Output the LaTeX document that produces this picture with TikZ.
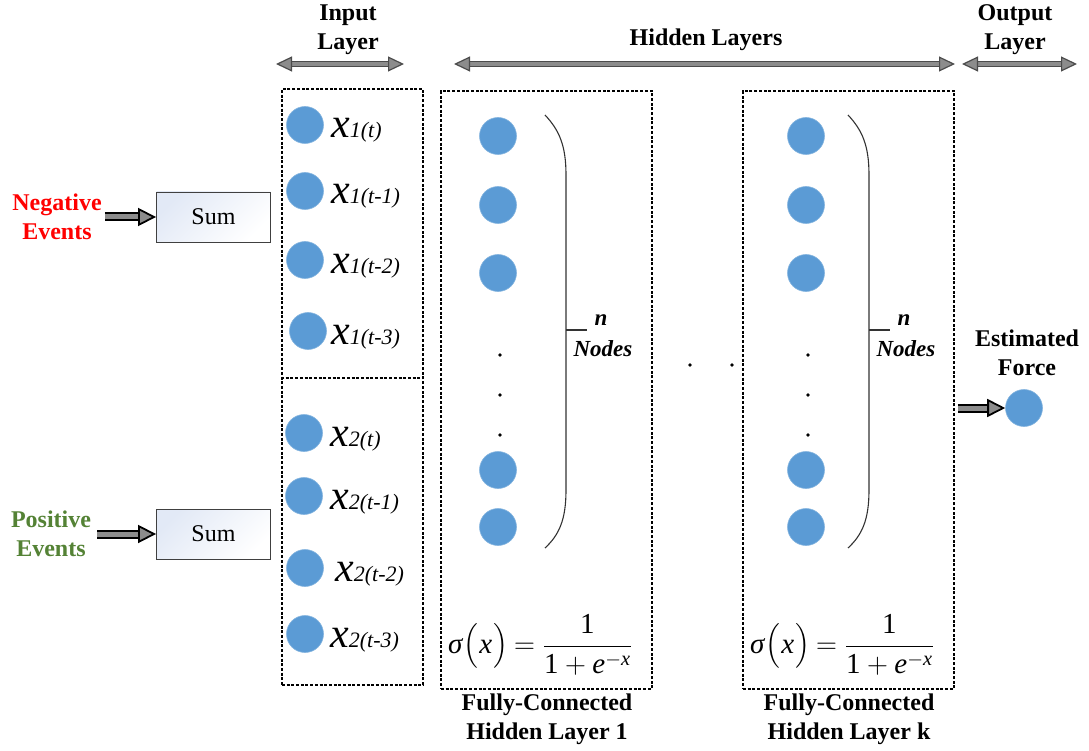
\RequirePackage{fix-cm}
\documentclass[tikz,border=0pt]{standalone}
\usepackage{amsmath}
\usepackage{fontspec}
\setmainfont{Liberation Serif}
\usetikzlibrary{arrows.meta,calc}
\definecolor{nodeblue}{HTML}{5B9BD5}
\definecolor{posgreen}{HTML}{548235}
\definecolor{arrowgray}{HTML}{8C8C8C}
\definecolor{sumfill}{HTML}{E2E9F6}

% input variable label: large italic x with a smaller index part
\newcommand\xvar[2]{{\fontsize{42}{42}\selectfont\itshape x}{\fontsize{22}{22}\selectfont\itshape #1(#2)}}
% sigmoid formula, set with the serif text face
\newcommand\sigmoid{{\fontsize{29}{32}\selectfont$\displaystyle\text{\itshape σ}\kern1pt\bigl(\kern1pt\text{\itshape x}\kern1pt\bigr)\kern-2pt=\frac{\text{1}}{\text{1}+\text{\itshape e}^{-\text{\itshape x}}}$}}

\begin{document}
\begin{tikzpicture}[x=1pt,y=-1pt,
  neuron/.style={circle,fill=nodeblue,draw=nodeblue!75!white,line width=0.6pt,minimum size=37pt,inner sep=0pt},
  layerbox/.style={draw=black,line width=1.9pt,dash pattern=on 3pt off 1.7pt},
  sumbox/.style={draw=black!75,line width=0.9pt,top color=sumfill,bottom color=white,shading angle=45,
     minimum width=114pt,minimum height=50pt,font=\fontsize{24}{24}\selectfont},
  head/.style={font=\fontsize{24}{29}\selectfont\bfseries,align=center,inner sep=0pt},
  xlab/.style={anchor=base west,inner sep=0pt},
  fatarrow/.style={draw=black,line width=2pt,double=arrowgray,double distance=5pt,
     -{Triangle[length=18pt,width=18pt,fill=arrowgray,line width=1.8pt]}},
  rangearrow/.style={draw=black!70,line width=1.2pt,double=arrowgray,double distance=4pt,
     {Triangle[length=16pt,width=15pt,fill=arrowgray,line width=1.2pt]}-{Triangle[length=16pt,width=15pt,fill=arrowgray,line width=1.2pt]}},
  dot/.style={circle,fill=black,inner sep=0pt,minimum size=3.6pt},
  brace/.style={draw=black!80,line width=1.1pt}
]
\useasboundingbox (0,0) rectangle (1089,751);

% ---------- layer headings and range arrows ----------
\node[head] (inhead) at (348,30) {Input\\Layer};
\node[head] (hidhead) at (706,40) {Hidden Layers};
\node[head] (outhead) at (1015,30) {Output\\Layer};
\coordinate (inL) at (276,64);  \coordinate (inR) at (404,64);
\coordinate (hidL) at (454,64); \coordinate (hidR) at (955,64);
\coordinate (outL) at (962,64); \coordinate (outR) at (1077,64);
\draw[rangearrow] (inL) -- (inR);
\draw[rangearrow] (hidL) -- (hidR);
\draw[rangearrow] (outL) -- (outR);

% ---------- input layer ----------
\node[layerbox,minimum width=141pt,minimum height=596pt,anchor=north west,inner sep=0pt] (inbox) at (281,88) {};
\coordinate (sepL) at (281,378);
\draw[layerbox] (sepL) -- (sepL -| inbox.east);

\node[neuron] (a1) at (305,125) {};
\node[neuron] (a2) at (305,191) {};
\node[neuron] (a3) at (305,260) {};
\node[neuron] (a4) at (308,331) {};
\node[xlab] (la1) at (331,138) {\xvar{1}{t}};
\node[xlab] (la2) at (331,204) {\xvar{1}{t-1}};
\node[xlab] (la3) at (331,273) {\xvar{1}{t-2}};
\node[xlab] (la4) at (331,344) {\xvar{1}{t-3}};

\node[neuron] (b1) at (304,433) {};
\node[neuron] (b2) at (304,496) {};
\node[neuron] (b3) at (305,568) {};
\node[neuron] (b4) at (305,634) {};
\node[xlab] (lb1) at (330,446) {\xvar{2}{t}};
\node[xlab] (lb2) at (330,509) {\xvar{2}{t-1}};
\node[xlab] (lb3) at (335,581) {\xvar{2}{t-2}};
\node[xlab] (lb4) at (330,647) {\xvar{2}{t-3}};

% ---------- event inputs ----------
\node[sumbox] (sum1) at (213.5,217) {Sum};
\node[sumbox] (sum2) at (213.5,534) {Sum};
\node[head,text=red] (neg) at (57,217) {Negative\\Events};
\node[head,text=posgreen] (pos) at (51,534) {Positive\\Events};
\draw[fatarrow] ([xshift=3pt]neg.east) -- (sum1.west);
\draw[fatarrow] ([xshift=6pt]pos.east) -- (sum2.west);

% ---------- hidden layers ----------
\foreach \id/\x/\bx in {h1/498/440, hk/806/742}{
  \node[layerbox,minimum width=211pt,minimum height=598pt,anchor=north west,inner sep=0pt] (\id box) at (\bx,90) {};
  \node[neuron] (\id n1) at (\x,136) {};
  \node[neuron] (\id n2) at (\x,205) {};
  \node[neuron] (\id n3) at (\x,273) {};
  \node[dot] (\id d1) at (\x+2,355) {};
  \node[dot] (\id d2) at (\x+2,395) {};
  \node[dot] (\id d3) at (\x+2,435) {};
  \node[neuron] (\id n4) at (\x,470) {};
  \node[neuron] (\id n5) at (\x,527) {};
}

% bracket marking the n nodes of each hidden layer
\foreach \id/\bx in {h1/545, hk/848}{
  \draw[brace] (\bx,115) .. controls (\bx+14,130) and (\bx+21,145) .. (\bx+21,175)
     -- (\bx+21,490) .. controls (\bx+21,520) and (\bx+14,535) .. (\bx,548);
  \coordinate (\id tick) at (\bx+21,330);
  \draw[brace] (\id tick) -- ++(21,0);
  \node[font=\fontsize{23}{23}\selectfont\bfseries\itshape,inner sep=0pt] (\id n) at (\bx+56,320) {n};
  \node[font=\fontsize{23}{23}\selectfont\bfseries\itshape,inner sep=0pt] (\id nodes) at (\bx+58,349) {Nodes};
}

\node[inner sep=0pt] (h1f) at (540,645) {\sigmoid};
\node[inner sep=0pt] (hkf) at (842,645) {\sigmoid};

\node[head] (h1cap) at (547,719) {Fully-Connected\\Hidden Layer 1};
\node[head] (hkcap) at (849,719) {Fully-Connected\\Hidden Layer k};

% dots between the hidden layers
\node[dot] (gap1) at (690,365) {};
\node[dot] (gap2) at (732,365) {};

% ---------- output ----------
\node[head] (est) at (1027,353) {Estimated\\Force};
\node[neuron] (out) at (1024,408) {};
\draw[fatarrow] (hkbox.east |- out) ++(3pt,0) -- (out.west);
\end{tikzpicture}
\end{document}
